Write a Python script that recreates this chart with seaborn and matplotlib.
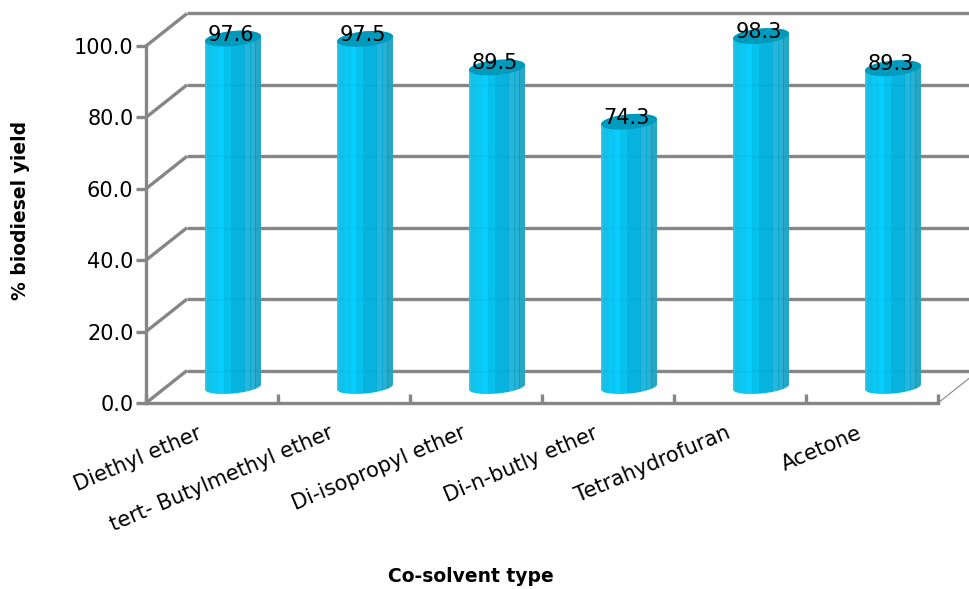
import numpy as np
import pandas as pd
import matplotlib
matplotlib.use("Agg")
import matplotlib.pyplot as plt
from matplotlib.patches import Rectangle, PathPatch
from matplotlib.path import Path
import seaborn as sns

solvents = ["Diethyl ether", "tert- Butylmethyl ether", "Di-isopropyl ether",
            "Di-n-butly ether", "Tetrahydrofuran", "Acetone"]
yields = [97.6, 97.5, 89.5, 74.3, 98.3, 89.3]
y_ticks = [0, 20, 40, 60, 80, 100]

GREY = "#868686"
LINE = 2.4
# shading of a cylinder from its left edge to its right edge
band_edges = [0, .03, .13, .25, .34, .47, .70, .72, .80, .815, .89, .905, 1]
band_colors = ["#22c6ea", "#0bbfe8", "#04c6f4", "#00ccff", "#00c0ee", "#00b2de",
               "#00a8d4", "#22b2d8", "#00a6d0", "#22aed2", "#009cc2", "#20a4c4", "#008fb0"]
CAP = "#009abd"

sns.set_theme(style="white")
plt.rcParams["font.family"] = ["DejaVu Sans"]

fig = plt.figure(figsize=(9.7, 5.89), dpi=100)
ax = fig.add_axes([146 / 970, (589 - 403) / 589, 792 / 970, 357 / 589])
frame = pd.DataFrame({"solvent": solvents, "yield": yields})
sns.barplot(data=frame, x="solvent", y="yield", width=56 / 132, ax=ax,
            color=band_colors[3], errorbar=None)
ax.set_xlim(-.5, 5.5)
ax.set_ylim(0, 100)

# scale of the axes in pixels, used for the oblique depth of the chart
px_x = 1 / 132
px_y = 100 / 357
depth_x, depth_y = 41 * px_x, 32.5 * px_y
mid_x, mid_y = 21 * px_x, 16 * px_y

# back wall and floor lines
for v in y_ticks:
    ax.plot([-.5, -.5 + depth_x], [v, v + depth_y], color=GREY, lw=LINE,
            clip_on=False, zorder=1, solid_capstyle="butt")
    ax.plot([-.5 + depth_x, 6], [v + depth_y] * 2, color=GREY, lw=LINE,
            clip_on=False, zorder=1, solid_capstyle="butt")
ax.plot([5.5, 5.5 + depth_x], [0, depth_y], color=GREY, lw=.8, clip_on=False, zorder=1)


def ellipse(cx, cy, half_w, t, half_h=6.5, tilt=2.5):
    return (cx + half_w * np.cos(t),
            cy + (half_h * np.sin(t) + tilt * np.cos(t)) * px_y)


for bar, value in zip(list(ax.patches), yields):
    bar.set_visible(False)
    left = bar.get_x() + mid_x
    w = bar.get_width()
    cx = left + w / 2
    top = value + mid_y
    base = mid_y
    # outline: upper half of the top ellipse, lower half of the base ellipse
    tx, ty = ellipse(cx, top, w / 2, np.linspace(0, np.pi, 40), 7.5, 2.5)
    bx, by = ellipse(cx, base, w / 2, np.linspace(np.pi, 2 * np.pi, 40))
    outline = Path(np.column_stack([np.r_[tx, bx], np.r_[ty, by]]))
    for e0, e1, c in zip(band_edges[:-1], band_edges[1:], band_colors):
        strip = Rectangle((left + e0 * w, base - 12 * px_y), (e1 - e0) * w,
                          value + 24 * px_y, facecolor=c, edgecolor="none",
                          alpha=.97, antialiased=False, zorder=2,
                          transform=ax.transData)
        strip.set_clip_path(outline, ax.transData)
        ax.add_patch(strip)
    cap_x, cap_y = ellipse(cx, top, w / 2, np.linspace(0, 2 * np.pi, 80), 7.5, 2.5)
    ax.add_patch(PathPatch(Path(np.column_stack([cap_x, cap_y])), facecolor=CAP,
                           edgecolor="none", clip_on=False, zorder=3))
    ax.annotate(f"{value:.1f}", (cx, top), xytext=(-1.8, 2.9),
                textcoords="offset points", ha="center", va="center",
                fontsize=15, color="black", annotation_clip=False, zorder=4)

for side in ("top", "right"):
    ax.spines[side].set_visible(False)
for side in ("left", "bottom"):
    ax.spines[side].set_color(GREY)
    ax.spines[side].set_linewidth(LINE)

ax.set_yticks(y_ticks, [f"{v:.1f}" for v in y_ticks], fontsize=15, color="black")
ax.tick_params(axis="y", which="major", direction="out", length=7, width=LINE,
               color=GREY, pad=2, left=True)
ax.set_xticks(np.arange(len(solvents)), solvents, rotation=23, ha="right",
              rotation_mode="anchor", fontsize=15, color="black")
ax.set_xticks(np.arange(len(solvents) + 1) - .5, minor=True)
ax.tick_params(axis="x", which="major", length=0, pad=13)
ax.tick_params(axis="x", which="minor", direction="in", length=6.5, width=LINE,
               color=GREY, bottom=True)
offset = matplotlib.transforms.ScaledTranslation(-15 / 100, -2 / 100, fig.dpi_scale_trans)
for label in ax.get_xticklabels():
    label.set_transform(label.get_transform() + offset)

ax.set_xlabel("")
ax.set_ylabel("")
fig.text(471 / 970, 1 - 577 / 589, "Co-solvent type", ha="center", va="center",
         fontsize=13.5, fontweight="bold", color="black")
fig.text(21 / 970, 1 - 210 / 589, "% biodiesel yield", ha="center", va="center",
         rotation=90, fontsize=13.5, fontweight="bold", color="black")

fig.savefig("out.png", dpi=100, facecolor="white")
